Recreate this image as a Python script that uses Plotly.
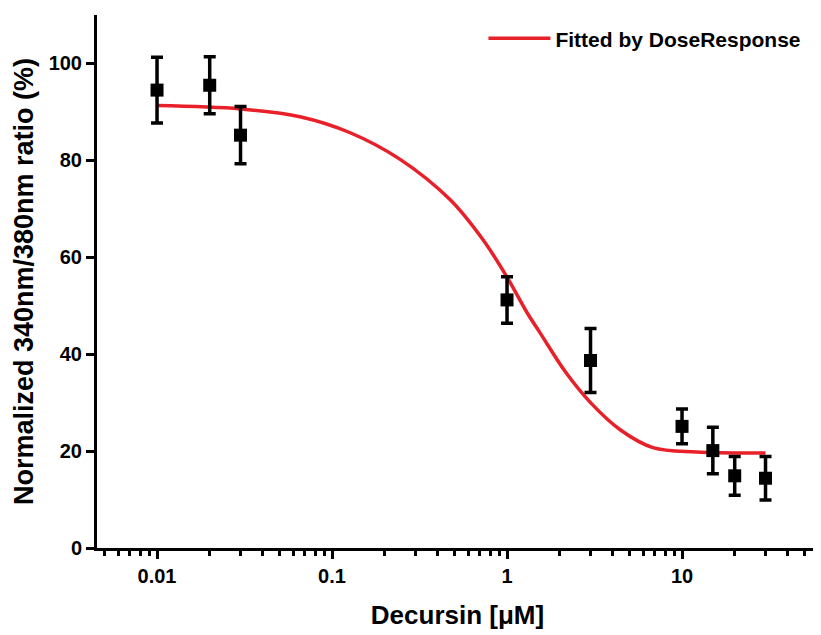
import plotly.graph_objects as go

dose = [0.01, 0.02, 0.03, 1, 3, 10, 15, 20, 30]
ratio = [94.5, 95.5, 85.2, 51.2, 38.7, 25.1, 20.1, 14.9, 14.4]
ratio_err = [6.8, 5.9, 5.9, 4.8, 6.6, 3.6, 4.8, 4.0, 4.5]

fit_x = [0.01, 0.03, 0.0656, 0.127, 0.245, 0.472, 0.729, 1.0, 1.3, 1.545, 2.17, 3.0, 4.43, 6.82, 12.1, 30]
fit_y = [91.3, 90.6, 89.0, 85.7, 80.2, 71.9, 63.6, 55.9, 48.6, 44.4, 36.2, 30.0, 24.4, 20.7, 19.8, 19.6]

x_title = "Decursin [μM]"
y_title = "Normalized 340nm/380nm ratio (%)"
fit_name = "Fitted by DoseResponse"

FONT = "Liberation Sans, Arial, sans-serif"

fig = go.Figure()
fig.add_trace(go.Scatter(
    x=fit_x, y=fit_y, mode="lines", name=fit_name,
    line=dict(color="#E8202A", width=3.5, shape="spline", smoothing=1.0),
))
fig.add_trace(go.Scatter(
    x=dose, y=ratio, mode="markers", showlegend=False,
    marker=dict(symbol="square", size=13, color="black"),
    error_y=dict(type="data", array=ratio_err, visible=True,
                 color="black", thickness=3.5, width=6),
))

fig.update_layout(
    width=821, height=635,
    margin=dict(l=89, r=11, t=7, b=95),
    plot_bgcolor="white", paper_bgcolor="white",
    font=dict(family=FONT, color="black", size=20),
    showlegend=True,
    legend=dict(x=0.536, y=0.994, xanchor="left", yanchor="top",
                bgcolor="rgba(0,0,0,0)", itemwidth=62,
                font=dict(family=FONT, size=21, color="black", weight="bold")),
    xaxis=dict(
        type="log", range=[-2.343, 1.777],
        showline=True, linewidth=3, linecolor="black", mirror=False,
        ticks="outside", tickwidth=3, ticklen=8, tickcolor="black",
        tickvals=[0.01, 0.1, 1, 10], ticktext=["0.01", "0.1", "1", "10"],
        showgrid=False, zeroline=False,
        tickfont=dict(family=FONT, size=20, weight="bold"),
        minor=dict(ticks="outside", ticklen=5, tickwidth=3, tickcolor="black",
                   dtick="D1", showgrid=False),
        title=dict(text=x_title, font=dict(family=FONT, size=26, weight="bold"), standoff=20),
    ),
    yaxis=dict(
        range=[0, 110], dtick=20, tick0=0,
        showline=True, linewidth=3, linecolor="black", mirror=False,
        ticks="outside", tickwidth=3, ticklen=8, tickcolor="black",
        showgrid=False, zeroline=False,
        tickfont=dict(family=FONT, size=20, weight="bold"),
        title=dict(text=y_title, font=dict(family=FONT, size=27, weight="bold"), standoff=8),
    ),
)

fig.write_html("out.html")
